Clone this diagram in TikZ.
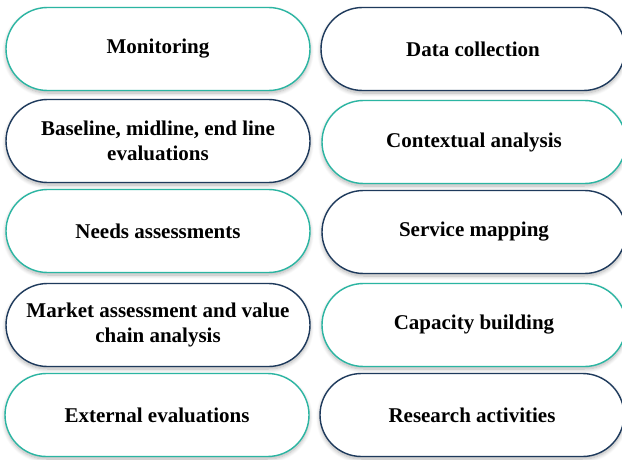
\documentclass[tikz,border=0pt]{standalone}
\usepackage{fontspec}
\setmainfont{Liberation Serif}
\usetikzlibrary{shapes.misc,shadows.blur}
\definecolor{tealline}{HTML}{2BB5A2}
\definecolor{navyline}{HTML}{1E3A5C}
\tikzset{
  pill/.style={rounded rectangle, draw, line width=1.4pt, fill=white,
    minimum width=304pt, minimum height=83pt, inner sep=0pt,
    align=center, font=\fontsize{21}{25.5}\selectfont\bfseries, text=black,
    blur shadow={shadow xshift=0pt, shadow yshift=-2.5pt, shadow blur radius=4pt,
      shadow blur steps=10, shadow opacity=30}},
  tealpill/.style={pill, draw=tealline},
  navypill/.style={pill, draw=navyline}
}
\begin{document}
\begin{tikzpicture}[x=1pt,y=-1pt]
\useasboundingbox (0,0) rectangle (622,460);
% left column
\node[tealpill] (mon)  at (158,49)  {Monitoring};
\node[navypill] (base) at (158,141) {Baseline, midline, end line\\evaluations};
\node[tealpill] (need) at (158,231) {Needs assessments};
\node[navypill] (mkt)  at (158,325) {Market assessment and value\\chain analysis};
\node[tealpill] (ext)  at (157,415) {External evaluations};
% right column
\node[navypill] (data) at (473,49)  {Data collection};
\node[tealpill] (ctx)  at (474,142) {Contextual analysis};
\node[navypill] (serv) at (474,232) {Service mapping};
\node[tealpill] (cap)  at (474,325) {Capacity building};
\node[navypill] (res)  at (472,415) {Research activities};
\end{tikzpicture}
\end{document}
